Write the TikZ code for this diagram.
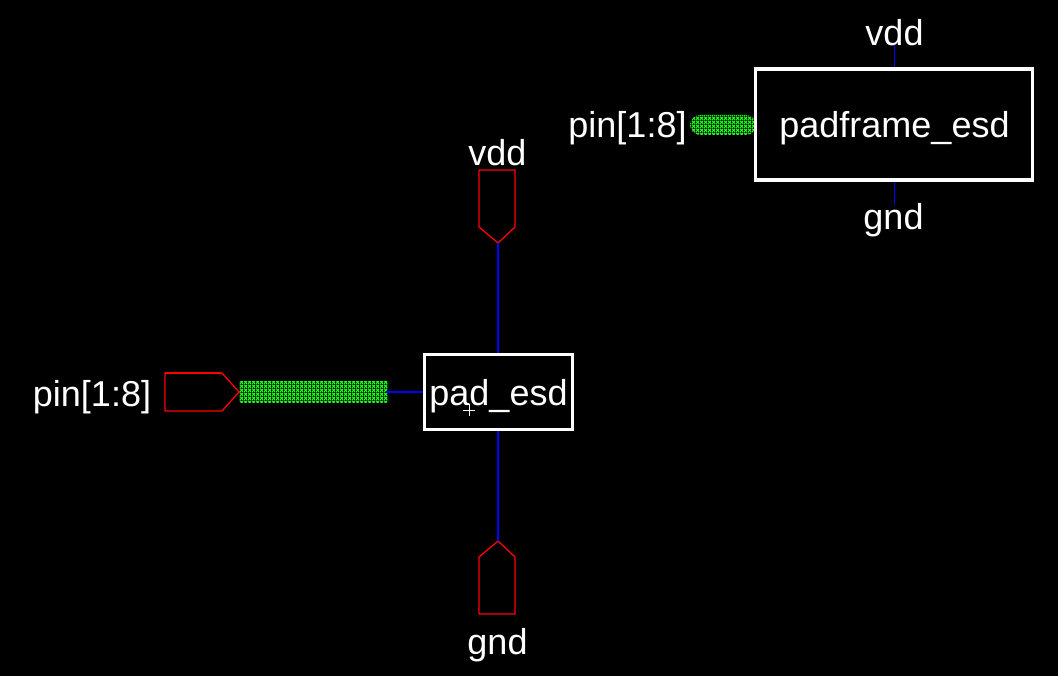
\documentclass[tikz,border=0pt]{standalone}
\usepackage{fontspec}
\setmainfont{Liberation Sans}
\usetikzlibrary{patterns}
\definecolor{busgreen}{RGB}{30,255,30}
\definecolor{wireblue}{RGB}{0,0,255}
\definecolor{pinred}{RGB}{255,0,0}
\pgfdeclarepatternformonly{busmesh}{\pgfqpoint{0pt}{0pt}}{\pgfqpoint{4pt}{4pt}}{\pgfqpoint{4pt}{4pt}}{%
  \pgfsetlinewidth{1.3pt}%
  \pgfpathmoveto{\pgfqpoint{0pt}{0pt}}\pgfpathlineto{\pgfqpoint{4pt}{4pt}}%
  \pgfpathmoveto{\pgfqpoint{0pt}{4pt}}\pgfpathlineto{\pgfqpoint{4pt}{0pt}}%
  \pgfusepath{stroke}}
\tikzset{
  lbl/.style={text=white,font=\fontsize{36}{40}\selectfont,inner sep=0pt,anchor=base},
  blockbox/.style={draw=white,line width=3.6pt,fill=black,inner sep=0pt,rectangle},
  pinline/.style={draw=pinred,line width=1.3pt,line join=miter},
  wire/.style={draw=wireblue,line width=1.5pt},
  bus/.style={rectangle,inner sep=0pt,pattern=busmesh,pattern color=busgreen}
}
\begin{document}
\begin{tikzpicture}[x=1pt,y=-1pt]
\useasboundingbox (0,0) rectangle (1058,676);
\fill[black] (0,0) rectangle (1058,676);
% top-right symbol
\coordinate (fvdd) at (894.5,45);
\coordinate (fgnd) at (894.5,205);
\node[bus,rounded corners=10pt,minimum width=66pt,minimum height=20pt] (fbus) at (723,125) {};
\node[blockbox,minimum width=277pt,minimum height=111pt] (frame) at (894,124.5) {};
\draw[wire] (fvdd) -- (fvdd |- frame.north);
\draw[wire] (fgnd |- frame.south) -- (fgnd);
\node[lbl] (tframe) at (894.5,138) {padframe\_esd};
\node[lbl] (tfvdd) at (894.5,46) {vdd};
\node[lbl] (tfgnd) at (893.5,230) {gnd};
\node[lbl] (tfpin) at (627.5,137.5) {pin[1:8]};
% schematic pins
\coordinate (vddtip) at (498,243);
\coordinate (gndtip) at (498,541);
\coordinate (pintip) at (239,392);
\draw[pinline] (vddtip) -- ++(-19,-16) -- ++(0,-57) -- ++(36,0) -- ++(0,57) -- cycle;
\draw[pinline] (gndtip) -- ++(-19,16) -- ++(0,57) -- ++(36,0) -- ++(0,-57) -- cycle;
\draw[pinline] (pintip) -- ++(-17,-19) -- ++(-57,0) -- ++(0,38) -- ++(57,0) -- cycle;
\draw[pinline,line width=2pt] (165,373.5) -- (221,373.5);
% schematic block and wires
\node[bus,minimum width=149pt,minimum height=20pt] (pbus) at (313.5,392) {};
\node[blockbox,minimum width=148pt,minimum height=75pt] (pad) at (498.5,392) {};
\draw[wire] (vddtip) -- (vddtip |- pad.north);
\draw[wire] (gndtip |- pad.south) -- (gndtip);
\draw[wire] (pbus.east) ++(-2,0) -- (pad.west);
\node[lbl] (tpad) at (498.5,406) {pad\_esd};
\node[lbl] (tvdd) at (497.5,166) {vdd};
\node[lbl] (tgnd) at (497.5,654) {gnd};
\node[lbl] (tpin) at (92,406.5) {pin[1:8]};
\coordinate (origin) at (469,410);
\draw[white,line width=1pt] (origin) ++(-6,0) -- ++(12,0) (origin) ++(0,-6) -- ++(0,12);
\end{tikzpicture}
\end{document}
